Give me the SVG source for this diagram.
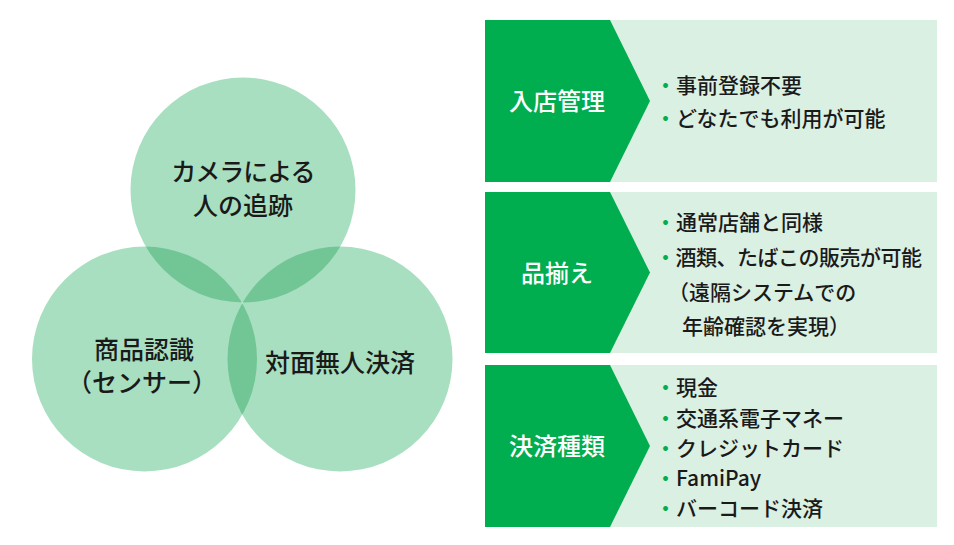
<svg xmlns="http://www.w3.org/2000/svg" width="954" height="545" viewBox="0 0 954 545">
<style>
.c{fill:#a8dfc0}
.lens{fill:#72c695}
.ct{font-family:"Noto Sans CJK JP","Noto Sans",sans-serif;font-size:25px;font-weight:500;fill:#1a1a1a;text-anchor:middle}
.hd{fill:#00ad4f}
.bg{fill:#daf0e2}
.ht{font-family:"Noto Sans CJK JP","Noto Sans",sans-serif;font-size:24px;font-weight:500;fill:#ffffff;text-anchor:middle}
.li{font-family:"Noto Sans CJK JP","Noto Sans",sans-serif;font-size:21px;font-weight:500;fill:#1a1a1a}
.bu{fill:#00ad4f}
</style>
<defs>
<clipPath id="cpTop"><circle cx="243" cy="190" r="112.5"/></clipPath>
<clipPath id="cpLeft"><circle cx="144.5" cy="359" r="112.5"/></clipPath>
</defs>
<g id="venn">
<g id="circle-top"><circle class="c" cx="243" cy="190" r="112.5"/></g>
<g id="circle-left"><circle class="c" cx="144.5" cy="359" r="112.5"/></g>
<g id="circle-right"><circle class="c" cx="340" cy="359" r="112.5"/></g>
<circle class="lens" cx="144.5" cy="359" r="112.5" clip-path="url(#cpTop)"/>
<circle class="lens" cx="340" cy="359" r="112.5" clip-path="url(#cpTop)"/>
<circle class="lens" cx="340" cy="359" r="112.5" clip-path="url(#cpLeft)"/>
<text class="ct" x="243" y="181" letter-spacing="-1">カメラによる</text>
<text class="ct" x="243" y="215">人の追跡</text>
<text class="ct" x="144" y="359">商品認識</text>
<text class="ct" x="142" y="392">（センサー）</text>
<text class="ct" x="340" y="372">対面無人決済</text>
</g>
<g id="connectors"></g>
<g id="panel-1">
<rect class="bg" x="485" y="20" width="452" height="162"/>
<polygon class="hd" points="485,20 610,20 650,101 610,182 485,182"/>
<text class="ht" x="557" y="110">入店管理</text>
<text class="li" x="655" y="93"><tspan class="bu">・</tspan>事前登録不要</text>
<text class="li" x="655" y="126"><tspan class="bu">・</tspan>どなたでも利用が可能</text>
</g>
<g id="panel-2">
<rect class="bg" x="485" y="192" width="452" height="161"/>
<polygon class="hd" points="485,192 610,192 650,272.5 610,353 485,353"/>
<text class="ht" x="557" y="282">品揃え</text>
<text class="li" x="655" y="230"><tspan class="bu">・</tspan>通常店舗と同様</text>
<text class="li" x="655" y="265" letter-spacing="-0.5"><tspan class="bu">・</tspan>酒類、たばこの販売が可能</text>
<text class="li" x="668" y="300">（遠隔システムでの</text>
<text class="li" x="682" y="334">年齢確認を実現）</text>
</g>
<g id="panel-3">
<rect class="bg" x="485" y="365" width="452" height="162"/>
<polygon class="hd" points="485,365 610,365 650,446 610,527 485,527"/>
<text class="ht" x="557" y="455">決済種類</text>
<text class="li" x="655" y="395"><tspan class="bu">・</tspan>現金</text>
<text class="li" x="655" y="426"><tspan class="bu">・</tspan>交通系電子マネー</text>
<text class="li" x="655" y="456"><tspan class="bu">・</tspan>クレジットカード</text>
<text class="li" x="655" y="486"><tspan class="bu">・</tspan>FamiPay</text>
<text class="li" x="655" y="516"><tspan class="bu">・</tspan>バーコード決済</text>
</g>
</svg>
